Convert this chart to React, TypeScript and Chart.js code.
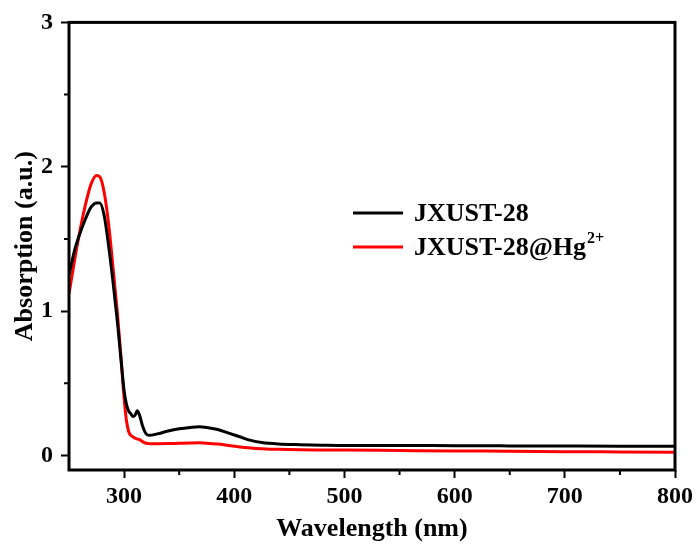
import React, { useEffect, useRef } from "react";
import { Chart, registerables } from "chart.js";

Chart.register(...registerables);

const wavelengths = [
  250, 255, 260, 265, 270, 275, 278, 282, 286, 290, 294, 297, 300, 302, 304, 306, 308, 310, 312, 314,
  317, 320, 323, 330, 340, 350, 360, 368, 375, 385, 395, 405, 415, 425, 440, 460, 480, 500, 550, 600,
  650, 700, 750, 800,
];

const jxust28 = [
  1.25, 1.42, 1.54, 1.64, 1.72, 1.75, 1.75, 1.66, 1.45, 1.2, 0.92, 0.68, 0.45, 0.36, 0.31, 0.29, 0.27, 0.28, 0.31, 0.28,
  0.2, 0.15, 0.14, 0.15, 0.17, 0.185, 0.195, 0.2, 0.195, 0.18, 0.155, 0.13, 0.105, 0.09, 0.08, 0.075, 0.072, 0.07, 0.07, 0.068,
  0.067, 0.066, 0.065, 0.065,
];

const jxust28Hg = [
  1.12, 1.35, 1.56, 1.74, 1.88, 1.94, 1.93, 1.82, 1.6, 1.3, 0.98, 0.7, 0.4, 0.25, 0.17, 0.14, 0.13, 0.12, 0.115, 0.11,
  0.095, 0.085, 0.082, 0.082, 0.083, 0.085, 0.087, 0.088, 0.086, 0.08, 0.07, 0.06, 0.053, 0.048, 0.043, 0.04, 0.039, 0.038, 0.035, 0.032,
  0.03, 0.027, 0.025, 0.023,
];

const seriesLabels = ["JXUST-28", "JXUST-28@Hg²⁺"];
const seriesColors = ["#000000", "#ff0000"];

const xMajorTicks = [300, 400, 500, 600, 700, 800];
const xMinorTicks = [350, 450, 550, 650, 750];
const yMajorTicks = [0, 1, 2, 3];
const yMinorTicks = [0.5, 1.5, 2.5];

const xTitle = "Wavelength (nm)";
const yTitle = "Absorption (a.u.)";

const FONT = "'Liberation Serif', 'Times New Roman', serif";

const supMap: Record<string, string> = { "²": "2", "⁺": "+", "³": "3", "⁻": "-" };

const framePlugin = {
  id: "frameAndMinor",
  afterDraw(chart: any) {
    const { ctx, chartArea } = chart;
    const { left, right, top, bottom } = chartArea;
    ctx.save();
    ctx.strokeStyle = "#000";
    ctx.lineWidth = 3;
    ctx.strokeRect(left, top, right - left, bottom - top);
    ctx.lineWidth = 2;
    const xs = chart.scales.x;
    const ys = chart.scales.y;
    ctx.beginPath();
    xMinorTicks.forEach((v) => {
      const px = xs.getPixelForValue(v);
      ctx.moveTo(px, bottom);
      ctx.lineTo(px, bottom + 5);
    });
    yMinorTicks.forEach((v) => {
      const py = ys.getPixelForValue(v);
      ctx.moveTo(left, py);
      ctx.lineTo(left - 5, py);
    });
    ctx.stroke();
    ctx.restore();
  },
};

const legendPlugin = {
  id: "customLegend",
  afterDraw(chart: any) {
    const { ctx } = chart;
    const items = [
      { y: 213, i: 0 },
      { y: 247, i: 1 },
    ];
    ctx.save();
    items.forEach(({ y, i }) => {
      const ds = chart.data.datasets[i];
      ctx.strokeStyle = ds.borderColor;
      ctx.lineWidth = 3;
      ctx.beginPath();
      ctx.moveTo(353, y);
      ctx.lineTo(403, y);
      ctx.stroke();
      const label: string = ds.label;
      const m = label.match(/^(.*?)([²³⁺⁻]+)$/);
      const main = m ? m[1] : label;
      const sup = m ? m[2].split("").map((c) => supMap[c] || c).join("") : "";
      ctx.fillStyle = "#000";
      ctx.textBaseline = "middle";
      ctx.textAlign = "left";
      ctx.font = `bold 26px ${FONT}`;
      ctx.fillText(main, 414, y + 1);
      if (sup) {
        const w = ctx.measureText(main).width;
        ctx.font = `bold 16px ${FONT}`;
        ctx.fillText(sup, 414 + w + 1, y - 8);
      }
    });
    ctx.restore();
  },
};

export default function App() {
  const ref = useRef<HTMLCanvasElement | null>(null);

  useEffect(() => {
    document.body.style.margin = "0";
    const canvas = ref.current;
    if (!canvas) return;
    const toPoints = (ys: number[]) => wavelengths.map((x, i) => ({ x, y: ys[i] }));
    const chart = new Chart(canvas, {
      type: "line",
      data: {
        datasets: [
          {
            label: seriesLabels[0],
            data: toPoints(jxust28),
            borderColor: seriesColors[0],
            borderWidth: 3,
            pointRadius: 0,
            cubicInterpolationMode: "monotone",
            fill: false,
          },
          {
            label: seriesLabels[1],
            data: toPoints(jxust28Hg),
            borderColor: seriesColors[1],
            borderWidth: 3,
            pointRadius: 0,
            cubicInterpolationMode: "monotone",
            fill: false,
          },
        ],
      },
      options: {
        animation: false,
        responsive: false,
        devicePixelRatio: 1,
        layout: { padding: { left: 0, right: 22, top: 22, bottom: 0 } },
        plugins: {
          legend: { display: false },
          tooltip: { enabled: false },
        },
        scales: {
          x: {
            type: "linear",
            min: 250,
            max: 800,
            afterBuildTicks: (scale: any) => {
              scale.ticks = xMajorTicks.map((v) => ({ value: v }));
            },
            afterFit: (scale: any) => {
              scale.height = 77;
            },
            border: { display: false },
            grid: {
              drawOnChartArea: false,
              drawTicks: true,
              tickLength: 8,
              tickWidth: 2,
              tickColor: "#000",
            },
            ticks: {
              color: "#000",
              font: { family: FONT, size: 24, weight: "bold" },
              padding: 4,
              maxRotation: 0,
            },
            title: {
              display: true,
              text: xTitle,
              color: "#000",
              font: { family: FONT, size: 26, weight: "bold" },
              padding: { top: 0, bottom: 2 },
            },
          },
          y: {
            type: "linear",
            min: -0.1,
            max: 3,
            afterBuildTicks: (scale: any) => {
              scale.ticks = yMajorTicks.map((v) => ({ value: v }));
            },
            afterFit: (scale: any) => {
              scale.width = 69;
            },
            border: { display: false },
            grid: {
              drawOnChartArea: false,
              drawTicks: true,
              tickLength: 8,
              tickWidth: 2,
              tickColor: "#000",
            },
            ticks: {
              color: "#000",
              font: { family: FONT, size: 24, weight: "bold" },
              padding: 8,
            },
            title: {
              display: true,
              text: yTitle,
              color: "#000",
              font: { family: FONT, size: 26, weight: "bold" },
              padding: { top: 10, bottom: 0 },
            },
          },
        },
      },
      plugins: [framePlugin, legendPlugin],
    } as any);
    return () => chart.destroy();
  }, []);

  return (
    <div style={{ width: 697, height: 547, background: "#fff" }}>
      <canvas ref={ref} width={697} height={547} style={{ display: "block" }} />
    </div>
  );
}
